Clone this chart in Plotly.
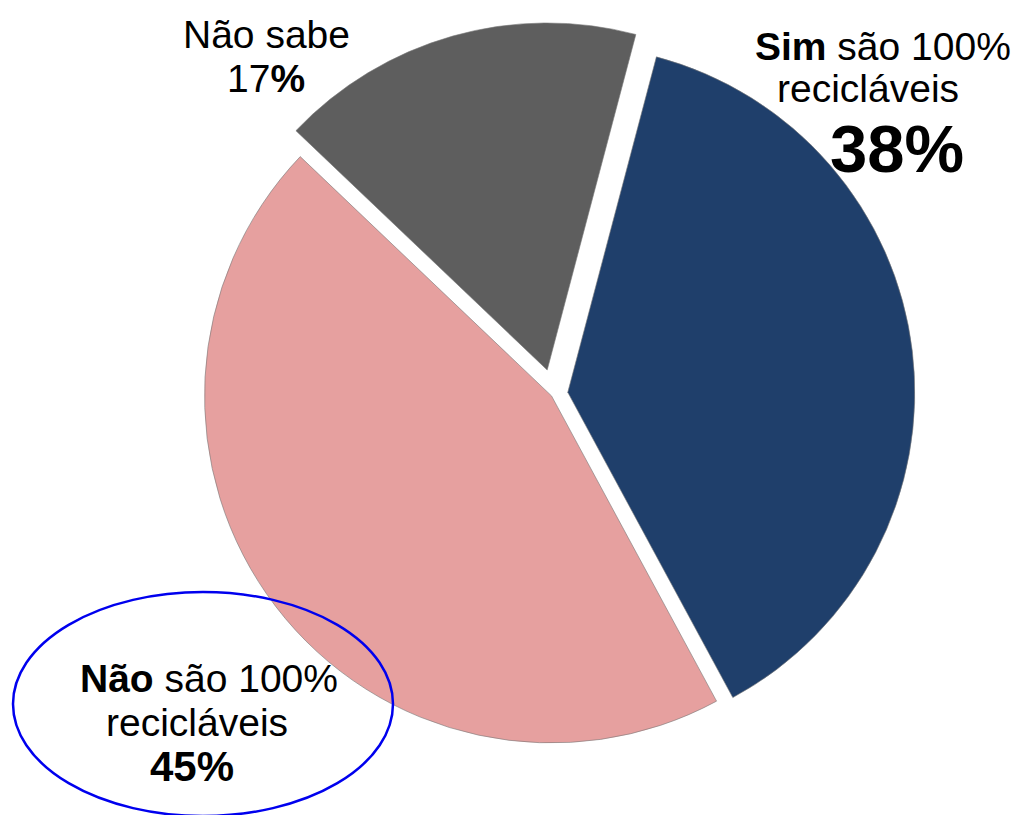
import plotly.graph_objects as go

labels = ["Sim são 100% recicláveis", "Não são 100% recicláveis", "Não sabe"]
values = [38, 45, 17]
colors = ["#1F3F6B", "#E6A09F", "#5E5E5E"]
pulls = [0.040, 0.009, 0.072]

W, H = 1021, 815

def px(x):
    return x / W

def py(y):
    return 1 - y / H

CX, CY, R = 554, 394, 347
half = R * (1 + max(pulls))

fig = go.Figure()
fig.add_trace(go.Pie(
    labels=labels,
    values=values,
    sort=False,
    direction="clockwise",
    rotation=14.8,
    pull=pulls,
    marker=dict(colors=colors, line=dict(color="rgba(120,120,120,0.6)", width=1)),
    textinfo="none",
    hoverinfo="label+percent",
    showlegend=False,
    domain=dict(x=[px(CX - half), px(CX + half)], y=[py(CY + half), py(CY - half)]),
))

font_family = "Liberation Sans, Arial, sans-serif"

def ann(x, y, text, size, bold=False):
    fig.add_annotation(
        x=px(x), y=py(y), xref="paper", yref="paper",
        text=("<b>%s</b>" % text) if bold else text,
        showarrow=False, xanchor="center", yanchor="middle",
        font=dict(family=font_family, size=size, color="#000000"),
    )

# Não sabe
ann(266, 35, "Não sabe", 39)
ann(266, 78, "17<b>%</b>", 39)

# Sim
ann(883, 46, "<b>Sim</b> são 100%", 39)
ann(868, 88, "recicláveis", 39)
ann(897, 148, "38%", 67, bold=True)

# Não
ann(209, 678, "<b>Não</b> são 100%", 39)
ann(197, 722, "recicláveis", 39)
ann(192, 766, "45%", 42, bold=True)

fig.add_shape(
    type="circle", xref="paper", yref="paper",
    x0=px(13), x1=px(393), y0=py(816), y1=py(592),
    line=dict(color="#0000EE", width=2.5),
    fillcolor="rgba(0,0,0,0)",
)

fig.update_layout(
    width=W, height=H,
    margin=dict(l=0, r=0, t=0, b=0),
    paper_bgcolor="white",
    plot_bgcolor="white",
)

fig.write_html(
    "out.html",
    config={"displayModeBar": False},
    post_script="document.body.style.margin='0px';",
)
